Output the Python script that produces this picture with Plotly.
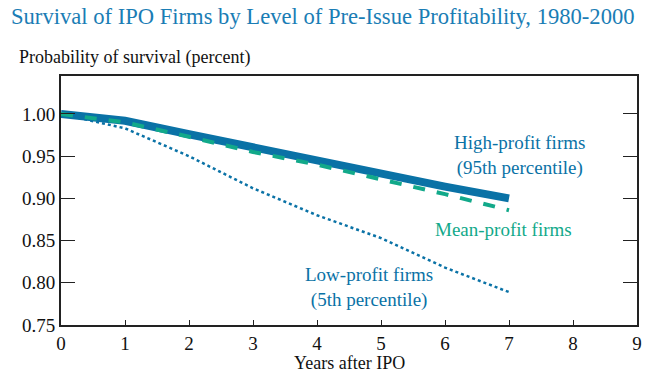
import plotly.graph_objects as go

years = [0, 1, 2, 3, 4, 5, 6, 7]
high_profit = [1.000, 0.992, 0.976, 0.960, 0.944, 0.928, 0.914, 0.900]
mean_profit = [1.000, 0.990, 0.973, 0.955, 0.940, 0.923, 0.905, 0.886]
low_profit = [1.000, 0.983, 0.950, 0.912, 0.880, 0.853, 0.818, 0.789]

x_ticks = list(range(0, 10))
y_ticks = [0.75, 0.80, 0.85, 0.90, 0.95, 1.00]

blue = "#0a72a6"
teal = "#12a98a"
title_blue = "#1a7db5"
font_family = "Liberation Serif"

fig = go.Figure()
fig.add_trace(go.Scatter(x=years, y=low_profit, mode="lines",
                         line=dict(color=blue, width=2.5, dash="dot"), showlegend=False))
fig.add_trace(go.Scatter(x=years, y=high_profit, mode="lines",
                         line=dict(color=blue, width=8), showlegend=False))
fig.add_trace(go.Scatter(x=years, y=mean_profit, mode="lines",
                         line=dict(color=teal, width=4, dash="dash"), showlegend=False))

fig.add_annotation(x=7.17, y=0.9508, text="High-profit firms<br>(95th percentile)", showarrow=False,
                   font=dict(color=blue, size=19, family=font_family), xanchor="center", yanchor="middle")
fig.add_annotation(x=6.92, y=0.8626, text="Mean-profit firms", showarrow=False,
                   font=dict(color=teal, size=19, family=font_family), xanchor="center", yanchor="middle")
fig.add_annotation(x=4.82, y=0.7944, text="Low-profit firms<br>(5th percentile)", showarrow=False,
                   font=dict(color=blue, size=19, family=font_family), xanchor="center", yanchor="middle")

fig.add_annotation(x=-0.0885, y=1.24, xref="paper", yref="paper", xanchor="left", yanchor="middle",
                   text="Survival of IPO Firms by Level of Pre-Issue Profitability, 1980-2000",
                   showarrow=False, borderpad=0,
                   font=dict(color=title_blue, size=22.6, family=font_family))
fig.add_annotation(x=-0.0764, y=1.076, xref="paper", yref="paper", xanchor="left", yanchor="middle",
                   text="Probability of survival (percent)",
                   showarrow=False, font=dict(color="#111111", size=18, family=font_family))
fig.add_annotation(x=0.5, y=-0.153, xref="paper", yref="paper", xanchor="center", yanchor="middle",
                   text="Years after IPO",
                   showarrow=False, font=dict(color="#111111", size=18, family=font_family))

fig.update_layout(
    width=669, height=385,
    margin=dict(l=61, r=32, t=76, b=60),
    paper_bgcolor="white", plot_bgcolor="white",
    font=dict(family=font_family, color="#111111", size=19),
    xaxis=dict(range=[0, 9], tickvals=x_ticks, ticks="inside", ticklen=5, tickcolor="#222",
               showline=True, linecolor="#222", linewidth=2, mirror=True, showgrid=False,
               zeroline=False),
    yaxis=dict(range=[0.75, 1.045], tickvals=y_ticks, tickformat=".2f", ticks="inside", ticklen=14,
               tickcolor="#222", showline=True, linecolor="#222", linewidth=2, mirror="ticks",
               showgrid=False, zeroline=False),
)

fig.write_html("out.html", config={"displayModeBar": False},
               post_script="document.body.style.margin='0';")
